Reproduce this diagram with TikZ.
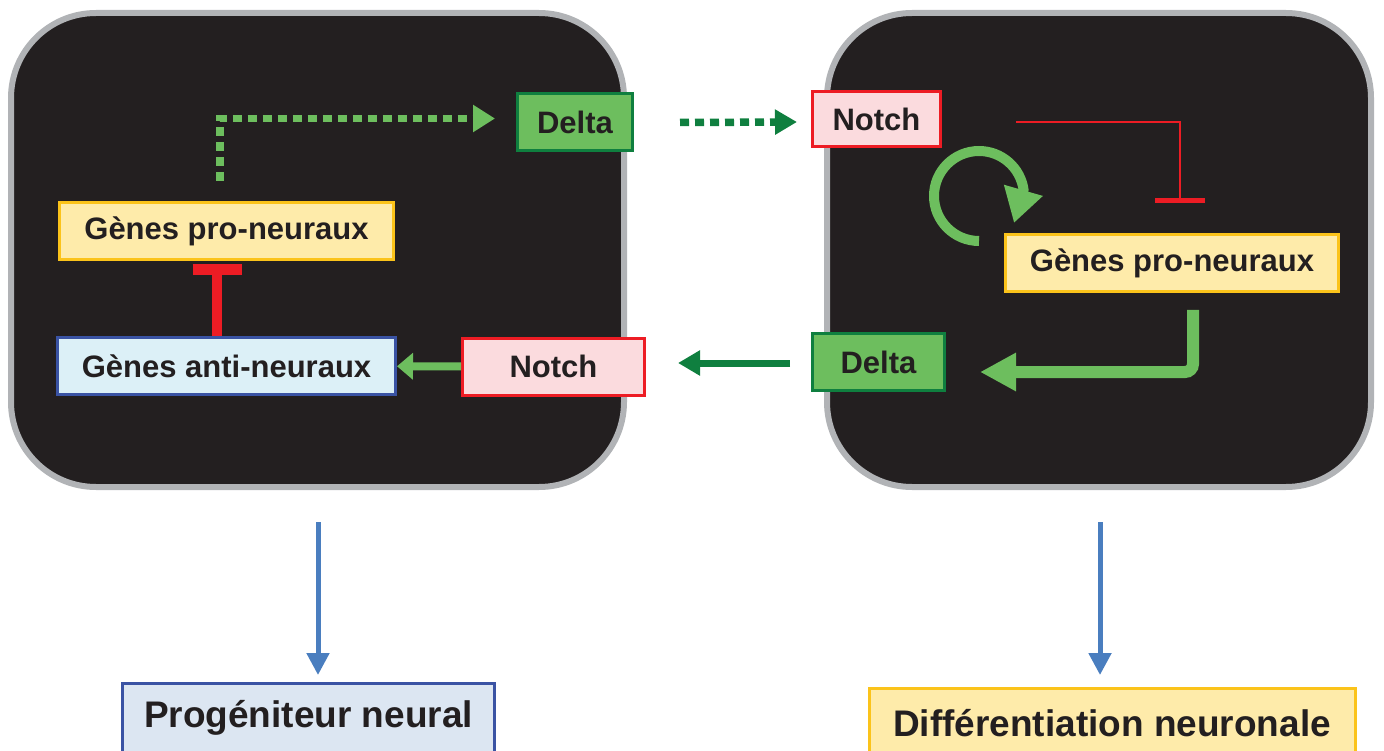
\documentclass[tikz,border=0pt]{standalone}
\usepackage{fontspec}
\setmainfont{Liberation Sans}
\usetikzlibrary{arrows.meta,calc,positioning}

\definecolor{cellfill}{HTML}{231F20}
\definecolor{cellrim}{HTML}{B1B3B6}
\definecolor{lgreen}{HTML}{6DBE5E}
\definecolor{dgreen}{HTML}{0F7F3F}
\definecolor{ired}{HTML}{ED1C24}
\definecolor{yborder}{HTML}{FBC31A}
\definecolor{yfill}{HTML}{FEEBAA}
\definecolor{pfill}{HTML}{FBDBDE}
\definecolor{bborder}{HTML}{3A53A4}
\definecolor{bfill}{HTML}{DCF0F7}
\definecolor{pgfill}{HTML}{DCE6F2}
\definecolor{barrow}{HTML}{4A7EBF}
\definecolor{txt}{HTML}{231F20}

\tikzstyle{cell}=[draw=cellrim,fill=cellfill,line width=6pt,rounded corners=85pt,inner sep=0pt]
\tikzstyle{gene}=[draw,line width=3pt,inner sep=0pt,minimum height=57pt,text=txt,font=\fontsize{31}{37}\selectfont\bfseries]
\tikzstyle{pro}=[gene,draw=yborder,fill=yfill]
\tikzstyle{anti}=[gene,draw=bborder,fill=bfill]
\tikzstyle{notch}=[gene,draw=ired,fill=pfill]
\tikzstyle{delta}=[gene,draw=dgreen,fill=lgreen]
\tikzstyle{fate}=[gene,minimum height=70pt,font=\fontsize{37}{44}\selectfont\bfseries]
\tikzstyle{dots}=[line width=7.5pt,dash pattern=on 9pt off 6pt]

\begin{document}
\begin{tikzpicture}[x=1pt,y=-1pt]
  \path[use as bounding box,clip] (0,0) rectangle (1384,751);

  % the two cells
  \node [cell,minimum width=613pt,minimum height=474pt] (cellA) at (317.5,250) {};
  \node [cell,minimum width=544pt,minimum height=474pt] (cellB) at (1099,250) {};

  % left cell
  \node [delta,minimum width=115pt] (delta1) at (575,122.5) {Delta};
  \node [pro,minimum width=334pt] (pro1) at (226.5,231) {Gènes pro-neuraux};
  \node [anti,minimum width=338pt] (anti1) at (226.5,366) {Gènes anti-neuraux};
  \node [notch,minimum width=182pt] (notch1) at (553.5,366.5) {Notch};

  % right cell
  \node [notch,minimum width=128pt,minimum height=55pt] (notch2) at (876.5,119) {Notch};
  \node [pro,minimum width=333pt] (pro2) at (1172,263) {Gènes pro-neuraux};
  \node [delta,minimum width=132pt] (delta2) at (878.5,362) {Delta};

  % fates
  \node [fate,draw=bborder,fill=pgfill,minimum width=372pt] (prog) at (308.5,718) {Progéniteur neural};
  \node [fate,draw=yborder,fill=yfill,minimum width=486pt] (diff) at (1112,723) {Différentiation neuronale};

  \coordinate (pro1out) at ($(pro1.north)+(-6.5,-20)$);
  \coordinate (notch2out) at ($(notch2.east)+(74,3)$);
  \coordinate (pro2in) at ($(pro2.north)+(8,-30)$);
  \coordinate (loopstart) at ($(pro2.west)+(-25,-22)$);
  \coordinate (looptip) at ($(pro2.west)+(10,-40)$);
  \coordinate (pro2out) at ($(pro2.south)+(21,17)$);

  \draw[lgreen,dots,-{Triangle[length=22pt,width=26pt]}] (pro1out) |- ($(delta1.west)+(-21,-4)$);
  \draw[dgreen,dots,-{Triangle[length=22pt,width=24pt]}] ($(delta1.east)+(46,0)$) -- ($(notch2.west)+(-14,3)$);
  \draw[ired,line width=10pt,-{Bar[width=49pt,line width=11pt]}] ($(anti1.north)+(-9.5,0)$) -- ($(pro1.south)+(-9.5,3)$);
  \draw[lgreen,line width=8pt,-{Triangle[length=16pt,width=26pt]}] (notch1) -- (anti1);

  \draw[ired,line width=2pt,-{Bar[width=50pt,line width=5pt]}] (notch2out) -| (pro2in);
  \draw[lgreen,line width=10pt,-{Triangle[length=34pt,width=38pt]}] (loopstart) arc[start angle=90,end angle=352,radius=45] -- (looptip);
  \draw[lgreen,line width=12pt,rounded corners=8pt,-{Triangle[length=36pt,width=36pt]}] (pro2out) |- ($(delta2.east)+(34,10)$);
  \draw[dgreen,line width=7pt,-{Triangle[length=22pt,width=24pt]}] ($(delta2.west)+(-21,1)$) -- ($(notch1.east)+(32,-3.5)$);

  \draw[barrow,line width=5pt,-{Triangle[length=22pt,width=22pt]}] ($(cellA.south)+(0.5,32)$) -- ($(prog.north)+(9.5,-6.5)$);
  \draw[barrow,line width=5pt,-{Triangle[length=22pt,width=22pt]}] ($(cellB.south)+(1,32)$) -- ($(diff.north)+(-12,-11.5)$);
\end{tikzpicture}
\end{document}
